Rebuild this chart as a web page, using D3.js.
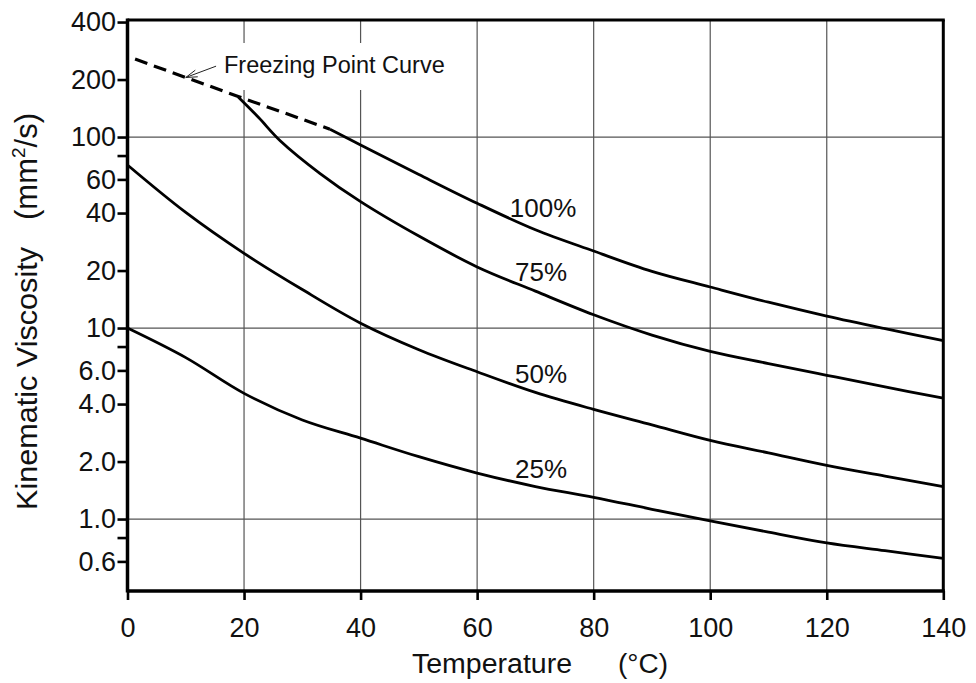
<!DOCTYPE html>
<html>
<head>
<meta charset="utf-8">
<script src="https://cdn.jsdelivr.net/npm/d3@7"></script>
<style>
  body { margin: 0; background: #fff; }
  text { font-family: "Liberation Sans", Arial, Helvetica, sans-serif; fill: #111; }
</style>
</head>
<body>
<svg id="chart" width="976" height="683"></svg>
<script>
// Kinematic viscosity of aqueous solutions vs temperature (log scale)
const tempTicks = [0, 20, 40, 60, 80, 100, 120, 140];
const viscTicks = [400, 200, 100, 60, 40, 20, 10, 6, 4, 2, 1, 0.6];
const viscTickLabels = ["400", "200", "100", "60", "40", "20", "10", "6.0", "4.0", "2.0", "1.0", "0.6"];
const viscMinorTicks = [80, 8, 0.8];
const viscGridLines = [100, 10, 1];

// concentration curves: temperature (°C) and viscosity (mm²/s)
const temps100 = [34.75, 40, 50, 60, 70, 80, 90, 100, 110, 120, 130, 140];
const visc100  = [110, 90.9, 63.7, 45, 32.7, 25.3, 19.8, 16.4, 13.65, 11.55, 9.93, 8.6];

const temps75 = [19, 22.5, 26.2, 33, 40, 50, 60, 70, 80, 90, 100, 110, 120, 130, 140];
const visc75  = [162, 126.5, 95.7, 64.6, 45.9, 30.3, 20.9, 15.6, 11.74, 9.19, 7.55, 6.52, 5.66, 4.92, 4.29];

const temps50 = [0, 10, 20, 30, 40, 50, 60, 70, 80, 90, 100, 110, 120, 130, 140];
const visc50  = [71.4, 40.3, 24.6, 15.9, 10.6, 7.7, 5.9, 4.6, 3.75, 3.11, 2.58, 2.22, 1.91, 1.68, 1.48];

const temps25 = [0, 10, 20, 30, 40, 50, 60, 70, 80, 90, 100, 110, 120, 130, 140];
const visc25  = [10, 7.0, 4.55, 3.3, 2.65, 2.12, 1.74, 1.48, 1.30, 1.125, 0.977, 0.854, 0.75, 0.683, 0.623];

// freezing point curve (dashed)
const freezeTemps = [1.3, 19, 34.75];
const freezeVisc  = [256, 163, 110];

// curve labels: text, temperature and viscosity at the label baseline start
const curveLabels = ["100%", "75%", "50%", "25%"];
const labelTemps  = [65.6, 66.5, 66.5, 66.5];
const labelVisc   = [38.1, 17.6, 5.16, 1.64];

const svg = d3.select("#chart");
const x = d3.scaleLinear().domain([0, 140]).range([127.5, 943.3]);
const y = d3.scaleLog().domain([0.42, 410]).range([591, 20]);

// grid
const grid = svg.append("g").attr("stroke", "#555").attr("stroke-width", 1.2);
grid.selectAll("line.v").data(tempTicks.slice(1, -1)).join("line")
  .attr("x1", d => x(d)).attr("x2", d => x(d))
  .attr("y1", y.range()[1]).attr("y2", y.range()[0]);
grid.selectAll("line.h").data(viscGridLines).join("line")
  .attr("x1", x.range()[0]).attr("x2", x.range()[1])
  .attr("y1", d => y(d)).attr("y2", d => y(d));

// white box behind the freezing point annotation
svg.append("rect").attr("x", 200).attr("y", 43).attr("width", 255).attr("height", 47).attr("fill", "#fff");

// axes
const xAxis = svg.append("g").attr("transform", `translate(0,${y.range()[0]})`)
  .call(d3.axisBottom(x).tickValues(tempTicks).tickSize(9).tickPadding(18).tickFormat(d3.format("d")));
const yAxis = svg.append("g").attr("transform", `translate(${x.range()[0]},0)`)
  .call(d3.axisLeft(y).tickValues(viscTicks).tickSize(10).tickPadding(1.5)
    .tickFormat((d, i) => viscTickLabels[i]));
const yMinor = svg.append("g").attr("transform", `translate(${x.range()[0]},0)`)
  .call(d3.axisLeft(y).tickValues(viscMinorTicks).tickSize(10).tickFormat(""));
[xAxis, yAxis, yMinor].forEach(g => {
  g.select(".domain").remove();
  g.selectAll(".tick line").attr("stroke", "#000").attr("stroke-width", 2.6);
});
xAxis.selectAll("text").attr("font-size", 27).attr("fill", "#111");
yAxis.selectAll("text").attr("font-size", 27).attr("fill", "#111");

// frame
const frame = svg.append("g").attr("stroke", "#000").attr("fill", "none");
frame.append("line").attr("x1", x.range()[0]).attr("x2", x.range()[0]).attr("y1", y.range()[1] - 1.5).attr("y2", y.range()[0] + 1.5).attr("stroke-width", 3.5);
frame.append("line").attr("x1", x.range()[0]).attr("x2", x.range()[1] + 1.5).attr("y1", y.range()[0]).attr("y2", y.range()[0]).attr("stroke-width", 3.5);
frame.append("line").attr("x1", x.range()[0]).attr("x2", x.range()[1] + 1.5).attr("y1", y.range()[1]).attr("y2", y.range()[1]).attr("stroke-width", 3);
frame.append("line").attr("x1", x.range()[1]).attr("x2", x.range()[1]).attr("y1", y.range()[1]).attr("y2", y.range()[0]).attr("stroke-width", 3);

// curves
const line = d3.line().x(d => x(d[0])).y(d => y(d[1])).curve(d3.curveCatmullRom.alpha(0.5));
const series = [
  [temps100, visc100], [temps75, visc75], [temps50, visc50], [temps25, visc25]
];
svg.append("g").selectAll("path").data(series).join("path")
  .attr("d", ([t, v]) => line(t.map((d, i) => [d, v[i]])))
  .attr("fill", "none").attr("stroke", "#000").attr("stroke-width", 2.8)
  .attr("stroke-linejoin", "round");

svg.append("path")
  .attr("d", d3.line().x(d => x(d[0])).y(d => y(d[1]))(freezeTemps.map((d, i) => [d, freezeVisc[i]])))
  .attr("fill", "none").attr("stroke", "#000").attr("stroke-width", 3.2)
  .attr("stroke-dasharray", "13,7");

// curve labels
svg.append("g").selectAll("text").data(curveLabels).join("text")
  .attr("x", (d, i) => x(labelTemps[i])).attr("y", (d, i) => y(labelVisc[i]))
  .attr("font-size", 26).text(d => d);

// freezing point annotation with arrow
const tip = [x(10.0), y(205)];
const tail = [x(15.2), y(235)];
svg.append("line").attr("x1", tail[0]).attr("y1", tail[1]).attr("x2", tip[0]).attr("y2", tip[1])
  .attr("stroke", "#222").attr("stroke-width", 1);
const ang = Math.atan2(tail[1] - tip[1], tail[0] - tip[0]);
const barb = (a) => [tip[0] + 12 * Math.cos(ang + a), tip[1] + 12 * Math.sin(ang + a)];
svg.append("path")
  .attr("d", d3.line()([barb(0.3), tip, barb(-0.3)]))
  .attr("fill", "none").attr("stroke", "#222").attr("stroke-width", 1);
svg.append("text").attr("x", 224).attr("y", 73).attr("font-size", 23.5).text("Freezing Point Curve");

// axis titles
svg.append("text").attr("x", 412).attr("y", 673).attr("font-size", 27)
  .attr("textLength", 160).attr("lengthAdjust", "spacingAndGlyphs").text("Temperature");
svg.append("text").attr("x", 618).attr("y", 673).attr("font-size", 27)
  .attr("textLength", 50).attr("lengthAdjust", "spacingAndGlyphs").text("(°C)");

const yTitle = svg.append("g").attr("transform", "translate(37,510) rotate(-90)");
yTitle.append("text").attr("x", 0).attr("y", 0).attr("font-size", 30)
  .attr("textLength", 263).attr("lengthAdjust", "spacingAndGlyphs").text("Kinematic Viscosity");
const unit = yTitle.append("text").attr("x", 290).attr("y", 0).attr("font-size", 31);
unit.append("tspan").text("(mm");
unit.append("tspan").attr("font-size", 19).attr("dy", -12).text("2");
unit.append("tspan").attr("dy", 12).text("/s)");
</script>
</body>
</html>
